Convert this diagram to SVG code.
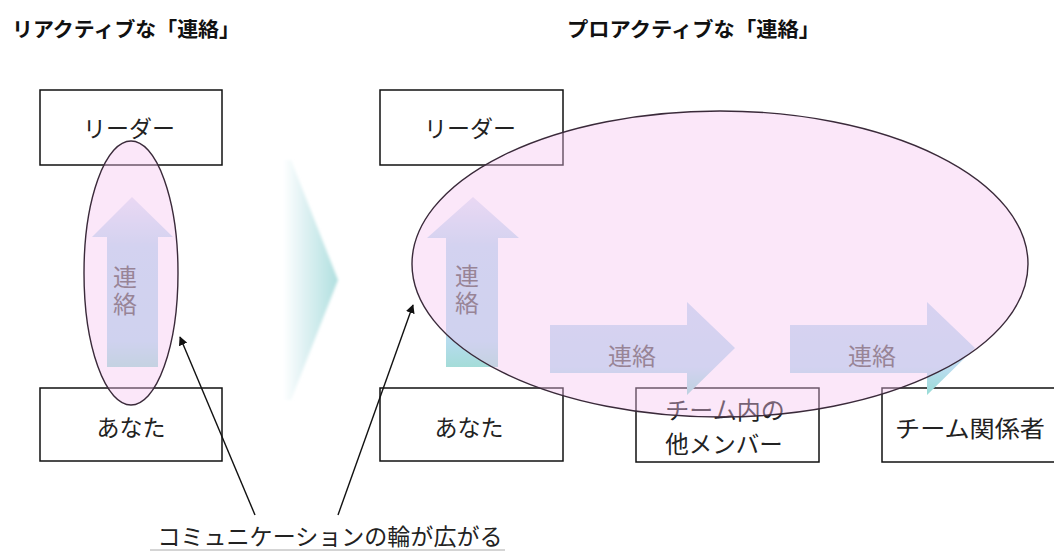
<svg xmlns="http://www.w3.org/2000/svg" width="1054" height="551" viewBox="0 0 1054 551">
<style>
.title{font-family:"Noto Sans CJK JP","Liberation Sans",sans-serif;font-size:20.5px;font-weight:bold;fill:#111}
.lbl{font-family:"Noto Sans CJK JP","Liberation Sans",sans-serif;font-size:23px;fill:#222;text-anchor:middle;dominant-baseline:central}
.atx{font-family:"Noto Sans CJK JP","Liberation Sans",sans-serif;font-size:24px;fill:#5a5a5a;text-anchor:middle;dominant-baseline:central}
.vtx{font-family:"Noto Sans CJK JP","Liberation Sans",sans-serif;font-size:24px;fill:#5a5a5a;text-anchor:middle;writing-mode:vertical-rl;letter-spacing:3px}
.box{fill:#fff;stroke:#111;stroke-width:1.5}
.ring{fill:#f6c4f0;fill-opacity:0.4;stroke:#3a2a3a;stroke-width:1.4}
.conn{stroke:#111;stroke-width:1.4;fill:none}
</style>
<defs>
<linearGradient id="gUp" x1="0" y1="0" x2="0" y2="1">
<stop offset="0" stop-color="#e2e6f6"/>
<stop offset="0.3" stop-color="#bcdcf0"/>
<stop offset="0.85" stop-color="#b6dcee"/>
<stop offset="1" stop-color="#a4dcd8"/>
</linearGradient>
<linearGradient id="gRt" x1="0" y1="0" x2="0" y2="1">
<stop offset="0" stop-color="#c4dcf2"/>
<stop offset="0.7" stop-color="#bcdcf0"/>
<stop offset="1" stop-color="#98dcd6"/>
</linearGradient>
<linearGradient id="gChev" x1="0" y1="0" x2="1" y2="0">
<stop offset="0" stop-color="#ffffff"/>
<stop offset="0.3" stop-color="#e6f4f6"/>
<stop offset="1" stop-color="#b0dfdf"/>
</linearGradient>
<filter id="soft" x="-20%" y="-20%" width="140%" height="140%">
<feGaussianBlur stdDeviation="1.5"/>
</filter>
<marker id="ah" viewBox="0 0 10 10" refX="9" refY="5" markerWidth="9" markerHeight="9" markerUnits="userSpaceOnUse" orient="auto">
<path d="M0,0 L10,5 L0,10 z" fill="#111"/>
</marker>
</defs>
<rect width="1054" height="551" fill="#fff"/>
<text class="title" x="12" y="37" textLength="228" lengthAdjust="spacingAndGlyphs">リアクティブな「連絡」</text>
<text class="title" x="567" y="37" textLength="253" lengthAdjust="spacingAndGlyphs">プロアクティブな「連絡」</text>
<polygon id="chevron" points="283,160 291,160 338,280 291,400 283,400" fill="url(#gChev)" filter="url(#soft)"/>
<g id="node-leader-left"><rect class="box" x="40" y="90" width="182" height="75"/><text class="lbl" x="129" y="127">リーダー</text></g>
<g id="node-anata-left"><rect class="box" x="40" y="388" width="182" height="73"/><text class="lbl" x="131" y="426">あなた</text></g>
<g id="node-leader-right"><rect class="box" x="380" y="90" width="183" height="75"/><text class="lbl" x="470" y="127">リーダー</text></g>
<g id="node-anata-right"><rect class="box" x="380" y="388" width="183" height="73"/><text class="lbl" x="469" y="426">あなた</text></g>
<g id="node-member"><rect class="box" x="636" y="388" width="183" height="74"/><text class="lbl" x="725" y="408" style="font-size:24px">チーム内の</text><text class="lbl" x="724" y="443" style="font-size:23.5px">他メンバー</text></g>
<g id="node-stakeholder"><rect class="box" x="882" y="388" width="190" height="74"/><text class="lbl" x="970" y="427" textLength="150" lengthAdjust="spacingAndGlyphs">チーム関係者</text></g>
<g id="arrow-up-left"><polygon points="132,197 173,237 158,237 158,367 107,367 107,237 92,237" fill="url(#gUp)"/><text class="vtx" x="125" y="292">連絡</text></g>
<g id="arrow-up-right"><polygon points="473,197 519,238 498,238 498,367 446,367 446,238 427,238" fill="url(#gUp)"/><text class="vtx" x="467" y="291">連絡</text></g>
<g id="arrow-right-1"><polygon points="550,325 687,325 687,302 735,348 687,395 687,373 550,373" fill="url(#gRt)"/><text class="atx" x="632" y="354">連絡</text></g>
<g id="arrow-right-2"><polygon points="790,325 927,325 927,302 975,348 927,395 927,373 790,373" fill="url(#gRt)"/><text class="atx" x="872" y="354">連絡</text></g>
<ellipse id="ring-left" class="ring" cx="131" cy="273" rx="47" ry="132"/>
<ellipse id="ring-right" class="ring" cx="720" cy="264" rx="308" ry="153"/>
<g id="connectors">
<line class="conn" x1="255" y1="515" x2="180" y2="337" marker-end="url(#ah)"/>
<line class="conn" x1="338" y1="515" x2="413" y2="305" marker-end="url(#ah)"/>
</g>
<g id="annotation"><text class="lbl" x="330" y="535" textLength="345" lengthAdjust="spacingAndGlyphs">コミュニケーションの輪が広がる</text><line x1="150" y1="550" x2="505" y2="550" stroke="#aaa" stroke-width="1"/></g>
</svg>
